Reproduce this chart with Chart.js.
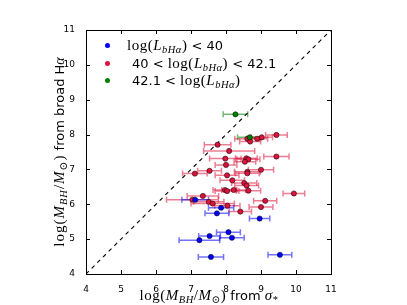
<!DOCTYPE html>
<html>
<head>
<meta charset="utf-8">
<script src="https://cdn.jsdelivr.net/npm/chart.js@4"></script>
<style>
html,body{margin:0;padding:0;background:#fff;}
#wrap{position:relative;width:407px;height:305px;overflow:hidden;}
canvas{position:absolute;left:0;top:0;}
.t{position:absolute;white-space:nowrap;font-family:"DejaVu Sans",sans-serif;color:#000;line-height:1;}
.m{font-family:"Liberation Serif","DejaVu Serif",serif;}
.mi{font-family:"Liberation Serif","DejaVu Serif",serif;font-style:italic;}
.sb{font-size:70%;position:relative;top:0.3em;}
.mx{font-size:15px;letter-spacing:0.5px;}
.dot{position:absolute;width:5px;height:5px;border-radius:50%;}
</style>
</head>
<body>
<div id="wrap">
<canvas id="c" width="407" height="305"></canvas>
<div class="t" id="xl" style="font-size:13px;left:209px;top:295px;transform:translate(-50%,-50%);">
<span class="mx"><span class="m">log(</span><span class="mi">M</span><span class="sb mi">BH</span><span class="m">/</span><span class="mi">M</span><span class="sb m">⊙</span><span class="m">)</span></span> from <span class="mx"><span class="mi">σ</span><span class="sb m">*</span></span></div>
<div class="t" id="yl" style="font-size:13px;left:59px;top:152px;transform:translate(-50%,-50%) rotate(-90deg);">
<span class="mx" style="letter-spacing:1px"><span class="m">log(</span><span class="mi">M</span><span class="sb mi">BH</span><span class="m">/</span><span class="mi">M</span><span class="sb m">⊙</span><span class="m">)</span></span> from broad H<span class="mi" style="font-size:14px">α</span></div>
<div class="dot" style="left:105px;top:42.5px;background:#0000ff;"></div>
<div class="dot" style="left:105px;top:60.5px;background:#dc143c;"></div>
<div class="dot" style="left:105px;top:77.5px;background:#008000;"></div>
<div class="t" style="font-size:13px;left:127px;top:45px;transform:translateY(-50%);"><span class="mx"><span class="m">log(</span><span class="mi">L</span><span class="sb mi">bHα</span><span class="m">)</span></span> &lt; 40</div>
<div class="t" style="font-size:13px;left:132px;top:63px;transform:translateY(-50%);">40 &lt; <span class="mx"><span class="m">log(</span><span class="mi">L</span><span class="sb mi">bHα</span><span class="m">)</span></span> &lt; 42.1</div>
<div class="t" style="font-size:13px;left:132px;top:80px;transform:translateY(-50%);">42.1 &lt; <span class="mx"><span class="m">log(</span><span class="mi">L</span><span class="sb mi">bHα</span><span class="m">)</span></span></div>
</div>
<script>
// ---- data ----
const ticks = [4, 5, 6, 7, 8, 9, 10, 11];
const blueX = [7.12, 7.86, 7.74, 8.96, 8.07, 7.53, 8.17, 7.24, 7.57, 9.54];
const blueY = [6.13, 5.90, 5.74, 5.59, 5.20, 5.09, 5.04, 4.97, 4.49, 4.55];
const blueErr = [0.38, 0.36, 0.34, 0.29, 0.34, 0.31, 0.35, 0.58, 0.36, 0.34];
const redX = [9.44, 9.02, 8.89, 8.61, 8.69, 7.76, 8.09, 9.44, 7.98, 8.58, 8.64, 8.54, 8.00, 9.00, 7.53, 8.61, 8.61, 7.11, 8.03, 8.18, 8.52, 8.59, 7.97, 8.03, 8.22, 8.64, 9.94, 7.34, 7.04, 7.51, 7.62, 9.12, 8.04, 9.00, 8.41];
const redY = [7.99, 7.92, 7.88, 7.88, 7.80, 7.71, 7.53, 7.37, 7.31, 7.32, 7.29, 7.22, 7.13, 6.99, 6.96, 6.93, 6.89, 6.88, 6.83, 6.69, 6.61, 6.54, 6.41, 6.38, 6.41, 6.39, 6.31, 6.24, 6.13, 6.07, 6.02, 6.10, 5.96, 5.92, 5.79];
const redErr = [0.31, 0.31, 0.30, 0.36, 0.30, 0.38, 0.73, 0.36, 0.45, 0.31, 0.33, 0.31, 0.31, 0.36, 0.34, 0.37, 0.34, 0.35, 0.34, 0.35, 0.36, 0.34, 0.34, 0.34, 0.34, 0.35, 0.31, 0.45, 0.74, 0.43, 0.62, 0.33, 0.36, 0.34, 0.32];
const greenX = [8.27, 8.68];
const greenY = [8.58, 7.92];
const greenErr = [0.35, 0.35];
const diagX = [4, 11];
const diagY = [4, 11];

const pts = (xs, ys) => xs.map((x, i) => ({x: x, y: ys[i]}));

const errBars = {
  id: 'errBars',
  beforeDatasetsDraw(chart) {
    const ctx = chart.ctx, xs = chart.scales.x, ys = chart.scales.y;
    const groups = [
      [redX, redY, redErr, 'rgba(220,20,60,0.55)'],
      [blueX, blueY, blueErr, 'rgba(0,0,255,0.55)'],
      [greenX, greenY, greenErr, 'rgba(0,128,0,0.55)']
    ];
    ctx.save();
    ctx.lineWidth = 1.5;
    groups.forEach(g => {
      ctx.strokeStyle = g[3];
      g[0].forEach((x, i) => {
        const y = ys.getPixelForValue(g[1][i]);
        const x0 = xs.getPixelForValue(x - g[2][i]);
        const x1 = xs.getPixelForValue(x + g[2][i]);
        ctx.beginPath();
        ctx.moveTo(x0, y); ctx.lineTo(x1, y);
        ctx.moveTo(x0, y - 3); ctx.lineTo(x0, y + 3);
        ctx.moveTo(x1, y - 3); ctx.lineTo(x1, y + 3);
        ctx.stroke();
      });
    });
    ctx.restore();
  }
};

const frame = {
  id: 'frame',
  afterDraw(chart) {
    const ctx = chart.ctx, a = chart.chartArea, xs = chart.scales.x, ys = chart.scales.y;
    ctx.save();
    ctx.strokeStyle = '#000';
    ctx.lineWidth = 1;
    ctx.strokeRect(Math.round(a.left) + 0.5, Math.round(a.top) + 0.5, Math.round(a.right - a.left), Math.round(a.bottom - a.top));
    ctx.beginPath();
    ticks.forEach(t => {
      const px = Math.round(xs.getPixelForValue(t)) + 0.5;
      ctx.moveTo(px, a.bottom); ctx.lineTo(px, a.bottom - 4);
      ctx.moveTo(px, a.top); ctx.lineTo(px, a.top + 4);
      const py = Math.round(ys.getPixelForValue(t)) + 0.5;
      ctx.moveTo(a.left, py); ctx.lineTo(a.left + 4, py);
      ctx.moveTo(a.right, py); ctx.lineTo(a.right - 4, py);
    });
    ctx.stroke();
    ctx.restore();
  }
};

new Chart(document.getElementById('c'), {
  type: 'scatter',
  data: {
    datasets: [
      {data: pts(greenX, greenY), backgroundColor: '#008000', borderColor: 'rgba(0,0,0,0.75)', borderWidth: 0.7, pointRadius: 2.6, order: 0},
      {data: pts(blueX, blueY), backgroundColor: '#0000ff', borderColor: 'rgba(0,0,0,0.75)', borderWidth: 0.7, pointRadius: 2.6, order: 1},
      {data: pts(redX, redY), backgroundColor: '#dc143c', borderColor: 'rgba(0,0,0,0.75)', borderWidth: 0.7, pointRadius: 2.6, order: 2},
      {data: pts(diagX, diagY), showLine: true, borderColor: '#000', borderWidth: 1.1, borderDash: [4, 4], pointRadius: 0, order: 3}
    ]
  },
  options: {
    responsive: false,
    animation: false,
    events: [],
    layout: {padding: {left: 0, top: 30, right: 76, bottom: 0}},
    plugins: {legend: {display: false}, tooltip: {enabled: false}},
    scales: {
      x: {
        type: 'linear', min: 4, max: 11,
        afterFit(s) { s.height = 31; },
        afterBuildTicks(s) { s.ticks = ticks.map(v => ({value: v})); },
        grid: {display: false}, border: {display: false},
        ticks: {padding: 2, color: '#000', font: {family: 'DejaVu Sans', size: 9}}
      },
      y: {
        type: 'linear', min: 4, max: 11,
        afterFit(s) { s.width = 86; },
        afterBuildTicks(s) { s.ticks = ticks.map(v => ({value: v})); },
        grid: {display: false}, border: {display: false},
        ticks: {padding: 3, color: '#000', font: {family: 'DejaVu Sans', size: 9}}
      }
    }
  },
  plugins: [errBars, frame]
});
</script>
</body>
</html>
